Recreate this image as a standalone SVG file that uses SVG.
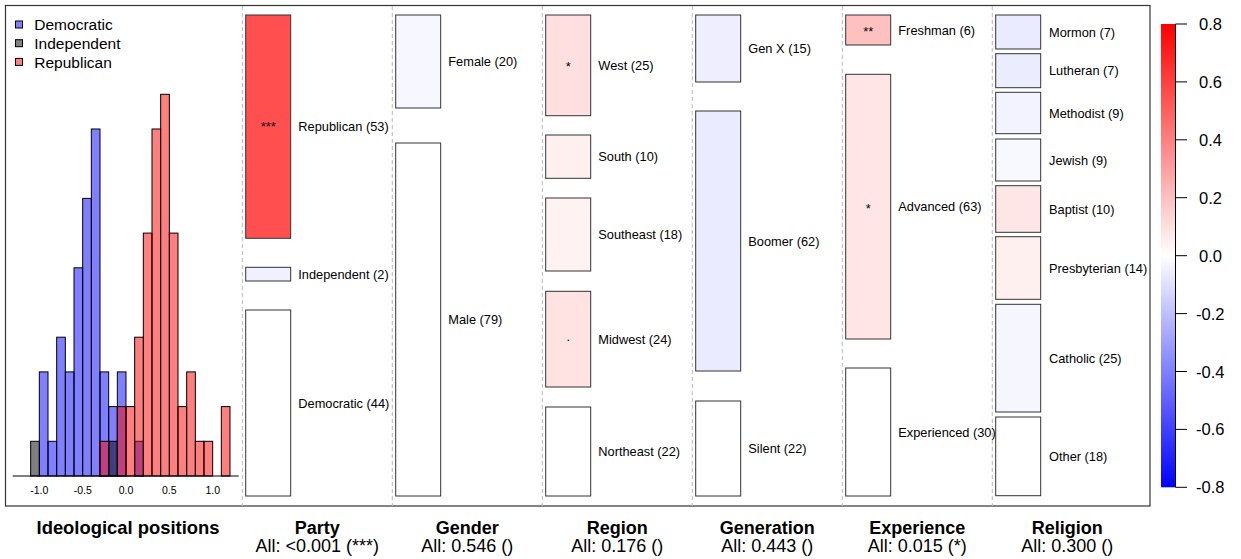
<svg xmlns="http://www.w3.org/2000/svg" width="1241" height="559" viewBox="0 0 1241 559">
<style>
text{font-family:"Liberation Sans",Arial,sans-serif;fill:#000}
.lab{font-size:12.8px;dominant-baseline:central}
.sig{font-size:12.8px;text-anchor:middle;dominant-baseline:central}
.cell{stroke:#333;stroke-width:1}
.sep{stroke:#bbb;stroke-width:1;stroke-dasharray:4,3}
.dem{fill:#0000ff;fill-opacity:.5;stroke:#000;stroke-width:1}
.ind{fill:#000;fill-opacity:.5;stroke:#000;stroke-width:1}
.rep{fill:#ff0000;fill-opacity:.5;stroke:#000;stroke-width:1}
.ttl{font-size:18px;font-weight:bold;text-anchor:middle}
.sub{font-size:18px;text-anchor:middle}
.ax{font-size:10.5px;text-anchor:middle}
.cb{font-size:16.5px;dominant-baseline:central}
.leg{font-size:15.5px;dominant-baseline:central}
</style>
<defs>
<linearGradient id="cbar" x1="0" y1="0" x2="0" y2="1">
<stop offset="0" stop-color="#ff0000"/>
<stop offset="0.5" stop-color="#ffffff"/>
<stop offset="1" stop-color="#0000ff"/>
</linearGradient>
</defs>
<rect x="0" y="0" width="1241" height="559" fill="#fff"/>
<rect x="5.5" y="5.5" width="1144.5" height="500.5" fill="none" stroke="#333" stroke-width="1.2"/>

<g id="connectors">
<line class="sep" x1="242.3" y1="6" x2="242.3" y2="506"/>
<line class="sep" x1="392.3" y1="6" x2="392.3" y2="506"/>
<line class="sep" x1="542.3" y1="6" x2="542.3" y2="506"/>
<line class="sep" x1="692.3" y1="6" x2="692.3" y2="506"/>
<line class="sep" x1="842.3" y1="6" x2="842.3" y2="506"/>
<line class="sep" x1="992.3" y1="6" x2="992.3" y2="506"/>
</g>

<g id="histogram">
<g id="hist-dem">
<rect class="dem" x="39.33" y="371.9" width="8.67" height="104.1"/>
<rect class="dem" x="48" y="441.3" width="8.67" height="34.7"/>
<rect class="dem" x="56.67" y="337.2" width="8.67" height="138.8"/>
<rect class="dem" x="65.33" y="371.9" width="8.67" height="104.1"/>
<rect class="dem" x="74" y="267.8" width="8.67" height="208.2"/>
<rect class="dem" x="82.67" y="198.4" width="8.67" height="277.6"/>
<rect class="dem" x="91.33" y="129" width="8.67" height="347"/>
<rect class="dem" x="100" y="371.9" width="8.67" height="104.1"/>
<rect class="dem" x="108.67" y="406.6" width="8.67" height="69.4"/>
<rect class="dem" x="117.33" y="371.9" width="8.67" height="104.1"/>
<rect class="dem" x="134.67" y="441.3" width="8.67" height="34.7"/>
</g>
<g id="hist-ind">
<rect class="ind" x="30.67" y="441.3" width="8.67" height="34.7"/>
<rect class="ind" x="108.67" y="441.3" width="8.67" height="34.7"/>
</g>
<g id="hist-rep">
<rect class="rep" x="100" y="441.3" width="8.67" height="34.7"/>
<rect class="rep" x="117.33" y="406.6" width="8.67" height="69.4"/>
<rect class="rep" x="126" y="406.6" width="8.67" height="69.4"/>
<rect class="rep" x="134.67" y="337.2" width="8.67" height="138.8"/>
<rect class="rep" x="143.33" y="233.1" width="8.67" height="242.9"/>
<rect class="rep" x="152" y="129" width="8.67" height="347"/>
<rect class="rep" x="160.67" y="94.3" width="8.67" height="381.7"/>
<rect class="rep" x="169.33" y="233.1" width="8.67" height="242.9"/>
<rect class="rep" x="178" y="406.6" width="8.67" height="69.4"/>
<rect class="rep" x="186.67" y="371.9" width="8.67" height="104.1"/>
<rect class="rep" x="195.33" y="441.3" width="8.67" height="34.7"/>
<rect class="rep" x="204" y="441.3" width="8.67" height="34.7"/>
<rect class="rep" x="221.33" y="406.6" width="8.67" height="69.4"/>
</g>
<line x1="12.7" y1="476" x2="238.7" y2="476" stroke="#000" stroke-width="1.2"/>
<text class="ax" x="39.3" y="494">-1.0</text>
<text class="ax" x="82.7" y="494">-0.5</text>
<text class="ax" x="126" y="494">0.0</text>
<text class="ax" x="169.3" y="494">0.5</text>
<text class="ax" x="212.7" y="494">1.0</text>
<g id="legend">
<rect x="15.5" y="21" width="7" height="7" fill="#8080ff" stroke="#000"/>
<text class="leg" x="34.3" y="24.7">Democratic</text>
<rect x="15.5" y="39.7" width="7" height="7" fill="#808080" stroke="#000"/>
<text class="leg" x="34.3" y="43.4">Independent</text>
<rect x="15.5" y="58.4" width="7" height="7" fill="#ff8080" stroke="#000"/>
<text class="leg" x="34.3" y="62.1">Republican</text>
</g>
</g>

<g id="party">
<g id="party-republican"><rect class="cell" x="245.7" y="15" width="45" height="223.3" fill="#ff4f4f"/><text class="sig" x="268.2" y="126.7">***</text><text class="lab" x="298.3" y="126.7">Republican (53)</text></g>
<g id="party-independent"><rect class="cell" x="245.7" y="267.3" width="45" height="13.7" fill="#f0f0ff"/><text class="lab" x="298.3" y="274.2">Independent (2)</text></g>
<g id="party-democratic"><rect class="cell" x="245.7" y="310" width="45" height="186" fill="#ffffff"/><text class="lab" x="298.3" y="403">Democratic (44)</text></g>
</g>

<g id="gender">
<g id="gender-female"><rect class="cell" x="395.7" y="15" width="45" height="93" fill="#f7f7ff"/><text class="lab" x="448.3" y="61.5">Female (20)</text></g>
<g id="gender-male"><rect class="cell" x="395.7" y="143" width="45" height="353" fill="#ffffff"/><text class="lab" x="448.3" y="319.5">Male (79)</text></g>
</g>

<g id="region">
<g id="region-west"><rect class="cell" x="545.7" y="15" width="45" height="100.7" fill="#ffdfdf"/><text class="sig" x="568.2" y="66">*</text><text class="lab" x="598.3" y="65.3">West (25)</text></g>
<g id="region-south"><rect class="cell" x="545.7" y="135" width="45" height="43.3" fill="#fff0f0"/><text class="lab" x="598.3" y="156.7">South (10)</text></g>
<g id="region-southeast"><rect class="cell" x="545.7" y="198" width="45" height="73" fill="#fff2f2"/><text class="lab" x="598.3" y="234.5">Southeast (18)</text></g>
<g id="region-midwest"><rect class="cell" x="545.7" y="291.3" width="45" height="95.7" fill="#ffe2e2"/><text class="sig" x="568.2" y="336">.</text><text class="lab" x="598.3" y="339">Midwest (24)</text></g>
<g id="region-northeast"><rect class="cell" x="545.7" y="407" width="45" height="89" fill="#ffffff"/><text class="lab" x="598.3" y="451.5">Northeast (22)</text></g>
</g>

<g id="generation">
<g id="generation-genx"><rect class="cell" x="695.7" y="15" width="45" height="67" fill="#eeeeff"/><text class="lab" x="748.3" y="48.5">Gen X (15)</text></g>
<g id="generation-boomer"><rect class="cell" x="695.7" y="111" width="45" height="260" fill="#ebebff"/><text class="lab" x="748.3" y="241">Boomer (62)</text></g>
<g id="generation-silent"><rect class="cell" x="695.7" y="401" width="45" height="95" fill="#ffffff"/><text class="lab" x="748.3" y="448.5">Silent (22)</text></g>
</g>

<g id="experience">
<g id="experience-freshman"><rect class="cell" x="845.7" y="15" width="45" height="30" fill="#ffc0c0"/><text class="sig" x="868.2" y="31">**</text><text class="lab" x="898.3" y="30">Freshman (6)</text></g>
<g id="experience-advanced"><rect class="cell" x="845.7" y="74.3" width="45" height="264.7" fill="#ffe5e5"/><text class="sig" x="868.2" y="208">*</text><text class="lab" x="898.3" y="206.7">Advanced (63)</text></g>
<g id="experience-experienced"><rect class="cell" x="845.7" y="368" width="45" height="128" fill="#ffffff"/><text class="lab" x="898.3" y="432">Experienced (30)</text></g>
</g>

<g id="religion">
<g id="religion-mormon"><rect class="cell" x="995.7" y="15" width="45" height="34" fill="#ebebff"/><text class="lab" x="1049" y="32">Mormon (7)</text></g>
<g id="religion-lutheran"><rect class="cell" x="995.7" y="53.7" width="45" height="34" fill="#ececff"/><text class="lab" x="1049" y="70.7">Lutheran (7)</text></g>
<g id="religion-methodist"><rect class="cell" x="995.7" y="92.3" width="45" height="41.4" fill="#f3f3ff"/><text class="lab" x="1049" y="113">Methodist (9)</text></g>
<g id="religion-jewish"><rect class="cell" x="995.7" y="139" width="45" height="42" fill="#f8f8ff"/><text class="lab" x="1049" y="160">Jewish (9)</text></g>
<g id="religion-baptist"><rect class="cell" x="995.7" y="185.7" width="45" height="46.6" fill="#ffe6e6"/><text class="lab" x="1049" y="209">Baptist (10)</text></g>
<g id="religion-presbyterian"><rect class="cell" x="995.7" y="236.7" width="45" height="62.6" fill="#fff0f0"/><text class="lab" x="1049" y="268">Presbyterian (14)</text></g>
<g id="religion-catholic"><rect class="cell" x="995.7" y="304.3" width="45" height="107.7" fill="#f6f6ff"/><text class="lab" x="1049" y="358">Catholic (25)</text></g>
<g id="religion-other"><rect class="cell" x="995.7" y="417" width="45" height="78.7" fill="#ffffff"/><text class="lab" x="1049" y="456">Other (18)</text></g>
</g>

<g id="colorbar">
<rect x="1161" y="24" width="14.5" height="463.3" fill="url(#cbar)"/>
<line x1="1175.5" y1="24" x2="1175.5" y2="487.3" stroke="#000"/>
<g stroke="#000">
<line x1="1175.5" y1="24" x2="1187" y2="24"/>
<line x1="1175.5" y1="81.9" x2="1187" y2="81.9"/>
<line x1="1175.5" y1="139.8" x2="1187" y2="139.8"/>
<line x1="1175.5" y1="197.7" x2="1187" y2="197.7"/>
<line x1="1175.5" y1="255.7" x2="1187" y2="255.7"/>
<line x1="1175.5" y1="313.6" x2="1187" y2="313.6"/>
<line x1="1175.5" y1="371.5" x2="1187" y2="371.5"/>
<line x1="1175.5" y1="429.4" x2="1187" y2="429.4"/>
<line x1="1175.5" y1="487.3" x2="1187" y2="487.3"/>
</g>
<text class="cb" x="1199" y="24">0.8</text>
<text class="cb" x="1199" y="81.9">0.6</text>
<text class="cb" x="1199" y="139.8">0.4</text>
<text class="cb" x="1199" y="197.7">0.2</text>
<text class="cb" x="1199" y="255.7">0.0</text>
<text class="cb" x="1196" y="313.6">-0.2</text>
<text class="cb" x="1196" y="371.5">-0.4</text>
<text class="cb" x="1196" y="429.4">-0.6</text>
<text class="cb" x="1196" y="487.3">-0.8</text>
</g>

<g id="titles">
<text class="ttl" x="128" y="534" style="font-size:18.4px">Ideological positions</text>
<text class="ttl" x="317.3" y="534">Party</text>
<text class="sub" x="317.3" y="552">All: &lt;0.001 (***)</text>
<text class="ttl" x="467.3" y="534">Gender</text>
<text class="sub" x="467.3" y="552">All: 0.546 ()</text>
<text class="ttl" x="617.3" y="534">Region</text>
<text class="sub" x="617.3" y="552">All: 0.176 ()</text>
<text class="ttl" x="767.3" y="534">Generation</text>
<text class="sub" x="767.3" y="552">All: 0.443 ()</text>
<text class="ttl" x="917.3" y="534">Experience</text>
<text class="sub" x="917.3" y="552">All: 0.015 (*)</text>
<text class="ttl" x="1067.3" y="534">Religion</text>
<text class="sub" x="1067.3" y="552">All: 0.300 ()</text>
</g>
</svg>
